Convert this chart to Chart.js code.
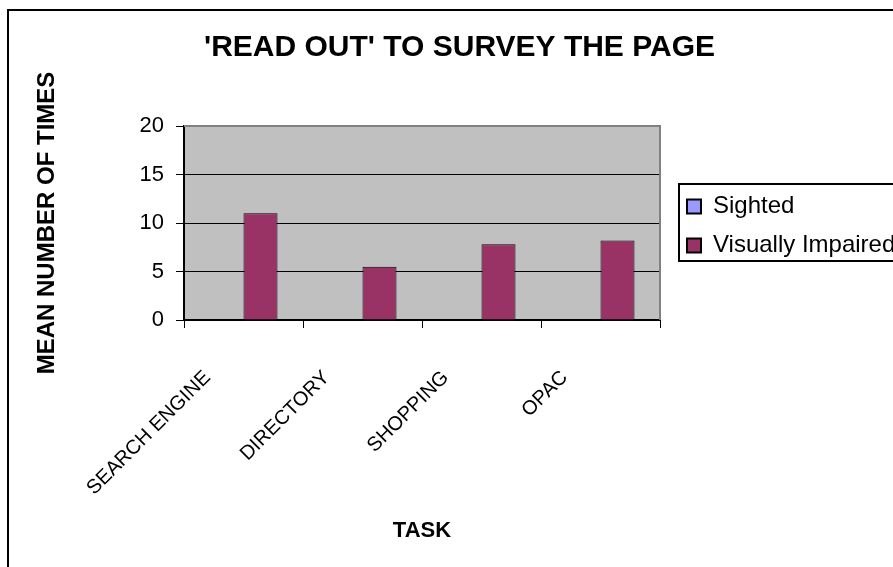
<!DOCTYPE html>
<html>
<head>
<meta charset="utf-8">
<title>'READ OUT' TO SURVEY THE PAGE</title>
<script src="https://cdn.jsdelivr.net/npm/chart.js@4.4.1/dist/chart.umd.min.js"></script>
<style>
  html, body { margin: 0; padding: 0; background: #fff; }
  #readOutChart { display: block; }
</style>
</head>
<body>
<canvas id="readOutChart" width="893" height="567"></canvas>
<script>
const tasks = ["SEARCH ENGINE", "DIRECTORY", "SHOPPING", "OPAC"];
const sighted = [0, 0, 0, 0];
const visuallyImpaired = [11, 5.5, 7.8, 8.2];
const yTicks = [0, 5, 10, 15, 20];

Chart.defaults.color = "#000";
Chart.defaults.font.family = "Arial, 'Liberation Sans', sans-serif";

// grey plot area, legend frame and the outer chart border (Excel look)
const excelFrame = {
  id: "excelFrame",
  afterLayout(chart) {
    const a = chart.chartArea;
    // title centred on the whole (cropped) chart sheet
    const t = chart.titleBlock;
    t.left = 26;
    t.right = chart.width;
    t.width = t.right - t.left;
    // legend a little right of the plot, running off the edge
    const lg = chart.legend;
    lg.left = a.right + 12;
    lg.right = chart.width + 20;
    lg.width = lg.right - lg.left;
    lg.top = a.top + 3;
    lg.bottom = a.bottom + 3;
    lg.height = lg.bottom - lg.top;
  },
  beforeDraw(chart) {
    const { ctx, chartArea: a } = chart;
    ctx.save();
    ctx.fillStyle = "#c0c0c0";
    ctx.fillRect(a.left, a.top, a.right - a.left, a.bottom - a.top);
    ctx.restore();
  },
  afterDraw(chart) {
    const { ctx, chartArea: a, legend } = chart;
    ctx.save();
    ctx.lineWidth = 2;
    ctx.strokeStyle = "#808080";
    ctx.beginPath();
    ctx.moveTo(a.left, a.top);
    ctx.lineTo(a.right, a.top);
    ctx.lineTo(a.right, a.bottom);
    ctx.stroke();

    ctx.strokeStyle = "#000";
    const ly = legend.top + legend.height / 2 - 42;
    ctx.strokeRect(legend.left + 7, ly, chart.width, 77);

    ctx.beginPath();
    ctx.moveTo(8, chart.height + 10);
    ctx.lineTo(8, 10);
    ctx.lineTo(chart.width + 10, 10);
    ctx.stroke();
    ctx.restore();
  }
};

new Chart(document.getElementById("readOutChart"), {
  type: "bar",
  data: {
    labels: tasks,
    datasets: [
      {
        label: "Sighted",
        data: sighted,
        backgroundColor: "#9999ff",
        borderColor: "#000",
        borderWidth: 1
      },
      {
        label: "Visually Impaired",
        data: visuallyImpaired,
        backgroundColor: "#993366",
        borderColor: "#000",
        borderWidth: 1
      }
    ]
  },
  options: {
    responsive: false,
    animation: false,
    devicePixelRatio: 1,
    layout: { padding: { left: 26, right: 33, top: 0, bottom: 10 } },
    datasets: { bar: { categoryPercentage: 2 / 3.5, barPercentage: 1 } },
    plugins: {
      title: {
        display: true,
        text: "'READ OUT' TO SURVEY THE PAGE",
        font: { size: 30, weight: "bold" },
        padding: { top: 29.5, bottom: 60.5 }
      },
      legend: {
        position: "right",
        maxWidth: 200,
        labels: {
          boxWidth: 14,
          boxHeight: 14,
          padding: 15,
          font: { size: 24 },
          generateLabels(chart) {
            const items = Chart.defaults.plugins.legend.labels.generateLabels(chart);
            items.forEach(it => { it.lineWidth = 2; });
            return items;
          }
        }
      },
      tooltip: { enabled: false }
    },
    scales: {
      x: {
        afterFit(scale) { scale.height = 237; },
        grid: { drawOnChartArea: false, tickLength: 8, tickColor: "#000" },
        border: { color: "#000", width: 2 },
        ticks: {
          autoSkip: false,
          minRotation: 45,
          maxRotation: 45,
          padding: 38,
          labelOffset: -36,
          font: { size: 20 }
        },
        title: {
          display: true,
          text: "TASK",
          font: { size: 22, weight: "bold" },
          padding: { top: 0, bottom: 13 }
        }
      },
      y: {
        min: 0,
        max: 20,
        afterFit(scale) { scale.width = 158; },
        afterBuildTicks(scale) { scale.ticks = yTicks.map(v => ({ value: v })); },
        grid: {
          color: c => (c.tick && c.tick.value === 20 ? "rgba(0,0,0,0)" : "#000"),
          tickLength: 8,
          tickColor: "#000"
        },
        border: { color: "#000", width: 2 },
        ticks: { padding: 12, font: { size: 22 } },
        title: {
          display: true,
          text: "MEAN NUMBER OF TIMES",
          font: { size: 24, weight: "bold" },
          padding: { top: 7 }
        }
      }
    }
  },
  plugins: [excelFrame]
});
</script>
</body>
</html>
